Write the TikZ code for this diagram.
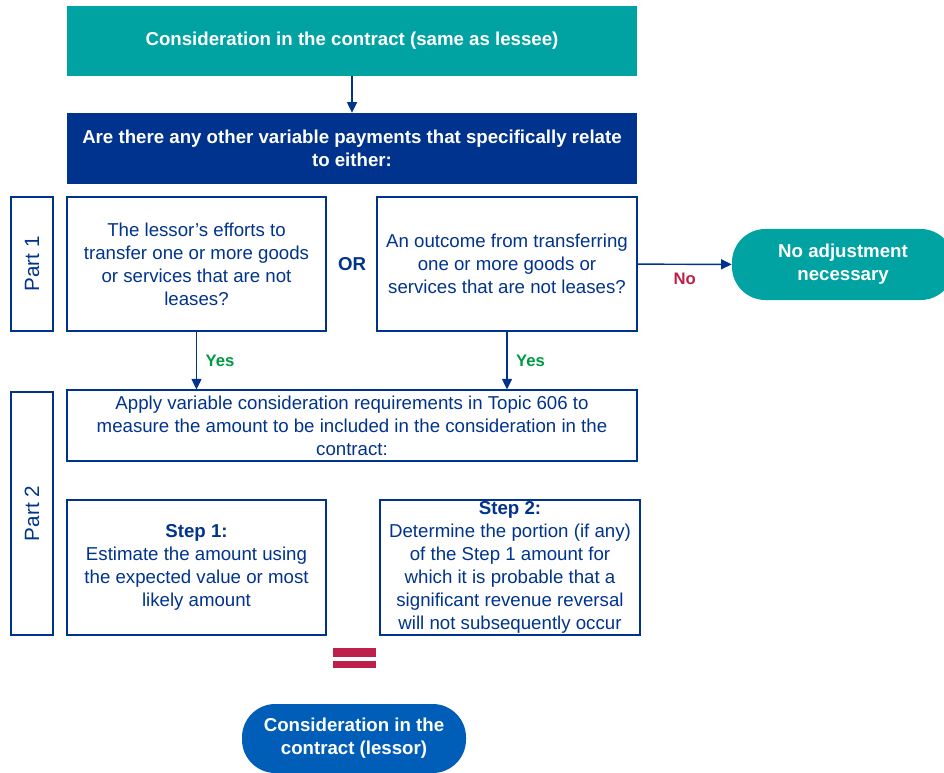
\documentclass[tikz,border=0pt]{standalone}
\usepackage{fontspec}
\setmainfont{Liberation Sans}
\usetikzlibrary{arrows.meta}
\definecolor{kteal}{RGB}{0,163,161}
\definecolor{knavy}{RGB}{0,51,141}
\definecolor{kblue}{RGB}{0,94,184}
\definecolor{kred}{RGB}{188,32,75}
\definecolor{kgreen}{RGB}{0,154,68}

\begin{document}
\begin{tikzpicture}[x=0.75pt,y=-0.75pt,
  font=\fontsize{14}{17.2}\selectfont,
  box/.style={draw=knavy,line width=0.8pt,text=knavy,align=center,inner sep=1pt},
  part/.style={box,rotate=90,minimum height=31.5pt,font=\fontsize{15.5}{17.2}\selectfont},
  head/.style={fill=#1,text=white,font=\fontsize{14}{17.2}\selectfont\bfseries,align=center},
  pill/.style={head=#1,rounded corners=25pt},
  arr/.style={-{Triangle[length=8pt,width=7.5pt]},knavy,line width=1.1pt},
  ans/.style={font=\fontsize{12.5}{14}\selectfont\bfseries,text=#1}]
\useasboundingbox (0,0) rectangle (944,773);
% top of the chart
\node[head=kteal,minimum width=427.5pt,minimum height=52.5pt] (same) at (352,41) {Consideration in the contract (same as lessee)};
\node[head=knavy,minimum width=427.5pt,minimum height=53.25pt] (ask) at (352,148.5) {Are there any other variable payments that specifically relate\\to either:};
\draw[arr] (same) -- (ask);
% part 1
\node[part,minimum width=100.5pt] (part1) at (32,264) {Part 1};
\node[box,minimum width=194.25pt,minimum height=100.5pt] (efforts) at (196.5,264) {The lessor's efforts to\\transfer one or more goods\\or services that are not\\leases?};
\node[text=knavy,font=\fontsize{14}{17.2}\selectfont\bfseries] (or) at (352,264) {OR};
\node[box,minimum width=195pt,minimum height=100.5pt] (outcome) at (507,264) {An outcome from transferring\\one or more goods or\\services that are not leases?};
\node[pill=kteal,minimum width=166.5pt,minimum height=53.25pt] (noadj) at (843,264.5) {No adjustment\\necessary};
\draw[arr] (outcome) -- node[ans=kred,below=3pt] {No} (noadj);
% part 2
\node[part,minimum width=182.25pt] (part2) at (32,513.5) {Part 2};
\node[box,minimum width=427.5pt,minimum height=53.25pt] (apply) at (352,425.5) {Apply variable consideration requirements in Topic 606 to\\measure the amount to be included in the consideration in the\\contract:};
\draw[arr] (efforts.south) -- node[ans=kgreen,right=3pt] {Yes} (efforts.south |- apply.north);
\draw[arr] (outcome.south) -- node[ans=kgreen,right=3pt] {Yes} (outcome.south |- apply.north);
\node[box,minimum width=194.25pt,minimum height=101.25pt] (step1) at (196.5,567.5) {\textbf{Step 1:}\\Estimate the amount using\\the expected value or most\\likely amount};
\node[box,minimum width=195pt,minimum height=101.25pt] (step2) at (510,567.5) {\textbf{Step 2:}\\Determine the portion (if any)\\of the Step 1 amount for\\which it is probable that a\\significant revenue reversal\\will not subsequently occur};
% equals sign
\fill[kred] (333,648) rectangle (376,657);
\fill[kred] (333,661) rectangle (376,668);
\node[pill=kblue,minimum width=168pt,minimum height=51.75pt] (lessor) at (354,738.5) {Consideration in the\\contract (lessor)};
\end{tikzpicture}
\end{document}
